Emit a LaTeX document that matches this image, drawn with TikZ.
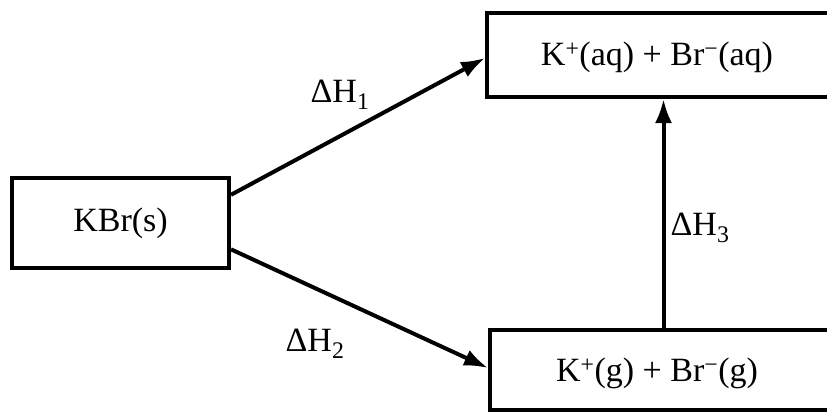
\documentclass[tikz,border=0pt]{standalone}
\usepackage{fontspec}
\setmainfont{Liberation Serif}
\usetikzlibrary{arrows.meta,calc}
\begin{document}
\begin{tikzpicture}[x=1pt,y=-1pt,
  box/.style={draw,line width=4pt,rectangle,inner sep=0pt},
  conn/.style={line width=4pt,-{Latex[length=24pt,width=17pt]}},
  lbl/.style={inner sep=0pt},
  font=\fontsize{34}{38}\selectfont]
\useasboundingbox (0,0) rectangle (827,416);
\clip (0,0) rectangle (827,416);
\fill[white] (0,0) rectangle (827,416);
\node[box,minimum width=217pt,minimum height=90pt] (kbr) at (120.5,223) {KBr(s)};
\node[box,minimum width=350pt,minimum height=84pt] (aq) at (662,55) {};
\node[lbl] (aqt) at (657,57) {K\textsuperscript{+}(aq) + Br\textsuperscript{−}(aq)};
\node[box,minimum width=347pt,minimum height=80pt] (g) at (663.5,370) {};
\node[lbl] (gt) at (657,373) {K\textsuperscript{+}(g) + Br\textsuperscript{−}(g)};
\draw[conn] ($(kbr.north east)!0.2!(kbr.south east)$) -- ($(aq.west)+(0,3)$);
\draw[conn] ($(kbr.north east)!0.78!(kbr.south east)$) -- ($(g.west)+(0,-2)$);
\draw[conn] (g.north) -- (g.north |- aq.south);
\node[lbl] (h1) at (340,95) {ΔH\textsubscript{1}};
\node[lbl] (h2) at (315,344) {ΔH\textsubscript{2}};
\node[lbl] (h3) at (700,228) {ΔH\textsubscript{3}};
\end{tikzpicture}
\end{document}
